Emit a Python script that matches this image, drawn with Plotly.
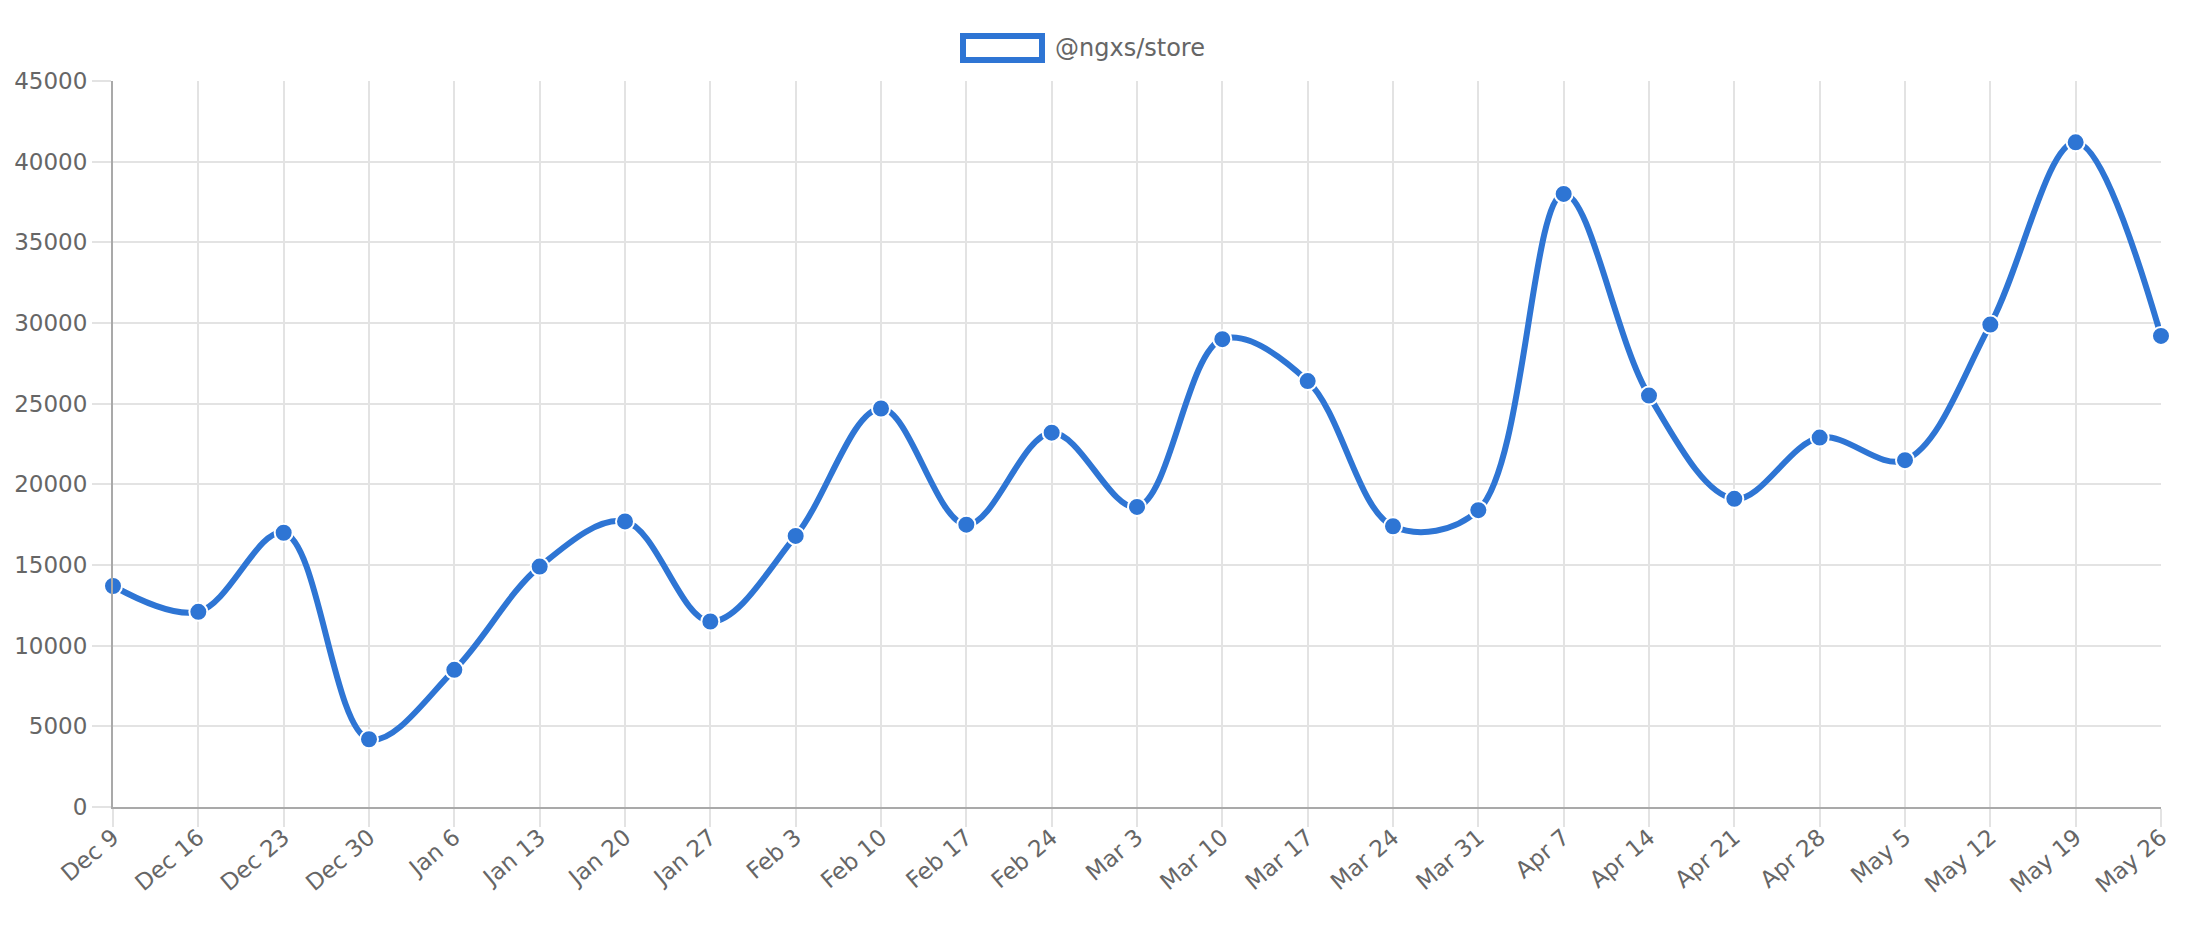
import plotly.graph_objects as go

weeks = ["Dec 9", "Dec 16", "Dec 23", "Dec 30", "Jan 6", "Jan 13", "Jan 20", "Jan 27",
         "Feb 3", "Feb 10", "Feb 17", "Feb 24", "Mar 3", "Mar 10", "Mar 17", "Mar 24",
         "Mar 31", "Apr 7", "Apr 14", "Apr 21", "Apr 28", "May 5", "May 12", "May 19", "May 26"]
downloads = [13700, 12100, 17000, 4200, 8500, 14900, 17700, 11500,
             16800, 24700, 17500, 23200, 18600, 29000, 26400, 17400,
             18400, 38000, 25500, 19100, 22900, 21500, 29900, 41200, 29200]
series_name = "@ngxs/store"
y_ticks = [0, 5000, 10000, 15000, 20000, 25000, 30000, 35000, 40000, 45000]
y_tick_text = [str(v) for v in y_ticks]

BLUE = "#2e75d4"
GRID = "#e3e3e3"
TXT = "#666666"
FONT = "DejaVu Sans"

fig = go.Figure()
fig.add_trace(go.Scatter(
    x=weeks, y=downloads, name=series_name, mode="lines+markers",
    line=dict(color=BLUE, width=6, shape="spline", smoothing=1.0),
    marker=dict(color=BLUE, size=18, line=dict(color="white", width=2)),
    cliponaxis=False, showlegend=False,
))

# page body has an 8px margin; work in page pixels and shift
OFF = 8
W, H = 2196 - 2 * OFF, 938 - 2 * OFF
PL, PR, PT, PB = 113, 2161, 81, 807  # plot area in page pixels
L, R, T, B = PL - OFF, W - (PR - OFF), PT - OFF, H - (PB - OFF)
pw, ph = W - L - R, H - T - B

def px(x):
    return (x - OFF - L) / pw

def py(y):
    return (H - B - (y - OFF)) / ph

fig.add_shape(type="rect", xref="paper", yref="paper",
              x0=px(963), x1=px(1042), y0=py(60), y1=py(36),
              line=dict(color=BLUE, width=6), fillcolor="white")
fig.add_annotation(xref="paper", yref="paper", x=px(1053), y=py(48),
                   xanchor="left", yanchor="middle", showarrow=False,
                   text=series_name, font=dict(family=FONT, size=24, color=TXT))

fig.update_layout(
    width=W, height=H,
    margin=dict(l=L, r=R, t=T, b=B, autoexpand=False),
    paper_bgcolor="white", plot_bgcolor="white",
    font=dict(family=FONT, size=23, color=TXT),
    xaxis=dict(
        type="category", range=[0, len(weeks) - 1], automargin=False,
        showgrid=True, gridcolor=GRID, gridwidth=2,
        ticks="outside", ticklen=18, tickcolor=GRID, tickwidth=2,
        tickangle=-40, ticklabelstandoff=-12,
        tickfont=dict(family=FONT, size=23, color=TXT),
        showline=True, linecolor="#a9a9a9", linewidth=2, zeroline=False,
    ),
    yaxis=dict(
        range=[0, 45000], tickvals=y_ticks, ticktext=y_tick_text, automargin=False,
        showgrid=True, gridcolor=GRID, gridwidth=2,
        ticks="outside", ticklen=19, tickcolor=GRID, tickwidth=2,
        tickfont=dict(family=FONT, size=23, color=TXT),
        showline=True, linecolor="#a9a9a9", linewidth=2, zeroline=False,
    ),
)

fig.write_html("out.html")
